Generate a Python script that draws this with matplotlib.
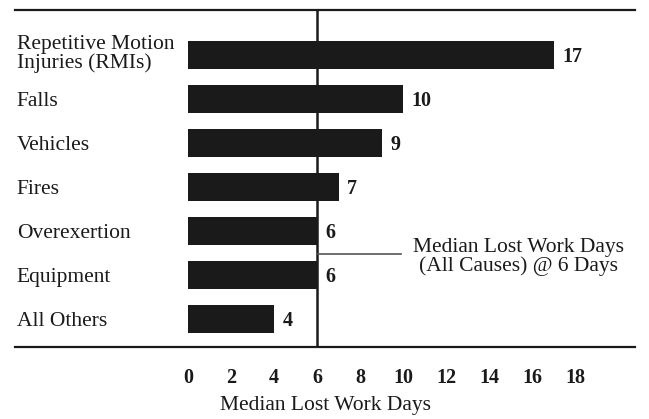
import matplotlib
matplotlib.use("Agg")
import matplotlib.pyplot as plt
import matplotlib.transforms as mtrans

causes = ["Repetitive Motion\nInjuries (RMIs)", "Falls", "Vehicles", "Fires",
          "Overexertion", "Equipment", "All Others"]
days = [17, 10, 9, 7, 6, 6, 4]
median_days = 6
xticks = [0, 2, 4, 6, 8, 10, 12, 14, 16, 18]

plt.rcParams['font.family'] = ['Liberation Serif', 'DejaVu Serif']
fs = 15.5
ink = "#1a1a1a"

fig = plt.figure(figsize=(6.49, 4.19), dpi=100)
ax = fig.add_axes([15 / 649, 1 - 347 / 419, 620 / 649, 337 / 419])

ypos = list(range(len(causes)))
ax.barh(ypos, days, height=0.64, color=ink)

for y, v in zip(ypos, days):
    ax.text(v + 0.4, y, str(v), va="center_baseline", ha="left",
            fontsize=fs - 1, fontweight="bold", color=ink)

trans = mtrans.blended_transform_factory(ax.transAxes, ax.transData)
for y, c in zip(ypos, causes):
    if "\n" in c:
        ax.text(0.003, y - 0.02, c, transform=trans, va="center", ha="left",
                fontsize=fs, linespacing=0.92, color=ink)
    else:
        ax.text(0.003, y, c, transform=trans, va="center_baseline",
                ha="left", fontsize=fs, color=ink)

ax.axvline(median_days, color=ink, lw=1.8)
ax.plot([median_days, 9.9], [4.52, 4.52], color="#555555", lw=1.2)
ax.text(15.35, 4.6, "Median Lost Work Days\n(All Causes) @ 6 Days",
        ha="center", va="center", fontsize=fs, linespacing=0.95,
        color=ink)

ax.set_xlim((15 - 188) / 21.5, (635 - 188) / 21.5)
ax.set_ylim(6.64, -1.02)

ax.set_xticks(xticks)
ax.set_xticklabels([str(t) for t in xticks], fontsize=fs - 1,
                   fontweight="bold", color=ink)
ax.tick_params(axis="x", length=0, pad=15)
ax.set_yticks([])
ax.set_xlabel("Median Lost Work Days", fontsize=fs, color=ink, labelpad=6)

for s in ["left", "right"]:
    ax.spines[s].set_visible(False)
for s in ["top", "bottom"]:
    ax.spines[s].set_linewidth(1.6)
    ax.spines[s].set_color(ink)

fig.savefig("out.png", dpi=100)
